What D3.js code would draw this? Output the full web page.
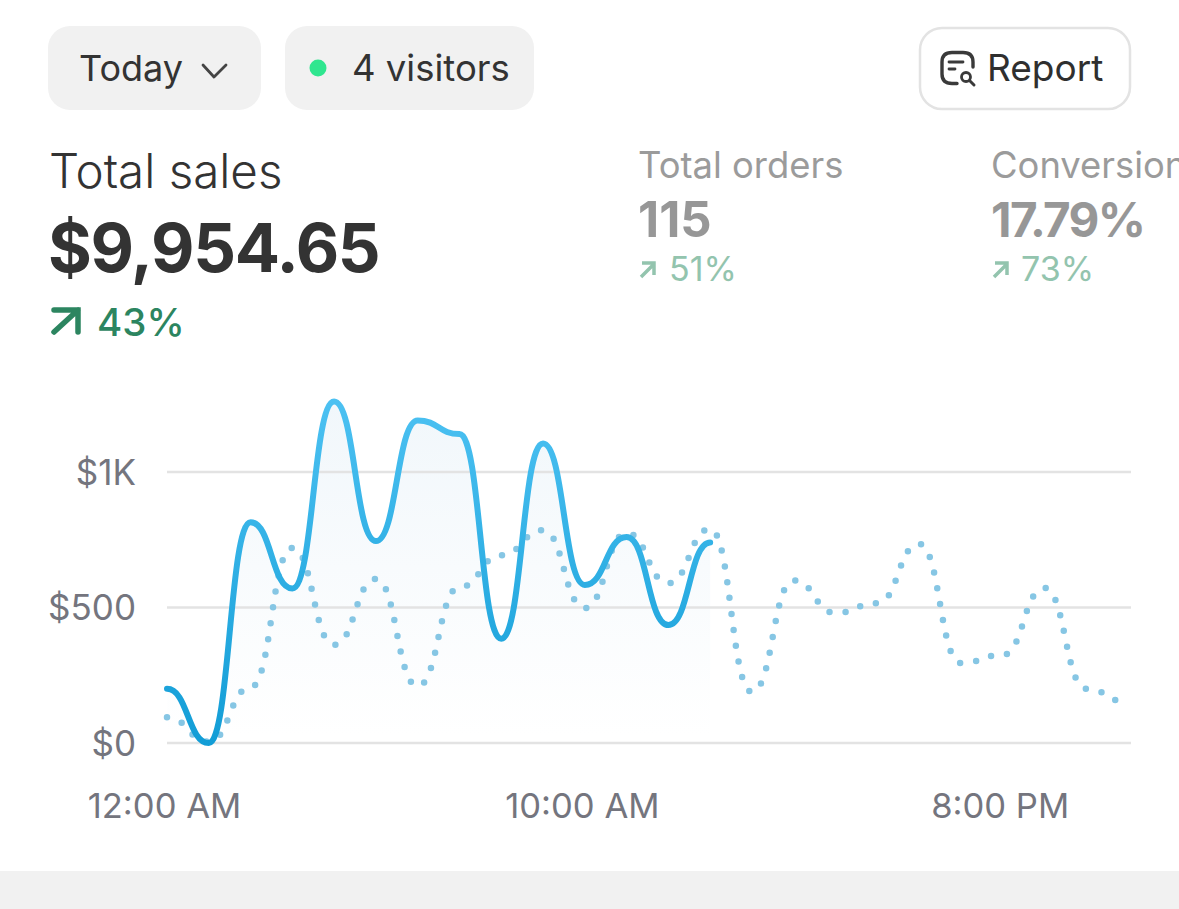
<!DOCTYPE html>
<html>
<head>
<meta charset="utf-8">
<script src="https://cdn.jsdelivr.net/npm/d3@7"></script>
<style>
html, body { margin: 0; padding: 0; background: #fff; overflow: hidden; }
svg { display: block; }
text { font-family: Inter, "Noto Sans", sans-serif; }
</style>
</head>
<body>
<div id="graph"></div>
<script>
// sales per hour
var hours = [0,1,2,3,4,5,6,7,8,9,10,11,12,13,14,15,16,17,18,19,20,21,22,23];
var today_sales = [200,0,815,570,1260,745,1190,1140,385,1105,583,760,435,740];
var last_sales = [95,5,205,720,362,605,210,575,693,785,498,775,590,790,188,600,480,516,735,295,325,572,200,150];
var y_ticks = [0,500,1000];
var y_labels = ["$0","$500","$1K"];
var x_ticks = [0,10,20];
var x_labels = ["12:00 AM","10:00 AM","8:00 PM"];

var width = 1179, height = 909;
var graph = d3.select('#graph').append('svg')
	.attr('width', width)
	.attr('height', height);

var defs = graph.append('defs');
var lineGrad = defs.append('linearGradient').attr('id','lineGrad')
	.attr('gradientUnits','userSpaceOnUse')
	.attr('x1',0).attr('y1',400).attr('x2',0).attr('y2',745);
lineGrad.append('stop').attr('offset','0%').attr('stop-color','#4cc1f2');
lineGrad.append('stop').attr('offset','100%').attr('stop-color','#129dd6');
var areaGrad = defs.append('linearGradient').attr('id','areaGrad')
	.attr('gradientUnits','userSpaceOnUse')
	.attr('x1',0).attr('y1',400).attr('x2',0).attr('y2',735);
areaGrad.append('stop').attr('offset','0%').attr('stop-color','#f1f7fb');
areaGrad.append('stop').attr('offset','100%').attr('stop-color','#ffffff');

function label(x, y, str, size, color, weight)
{
	return graph.append('text')
		.attr('x', x).attr('y', y)
		.attr('font-size', size)
		.attr('font-weight', weight || 400)
		.attr('fill', color)
		.text(str);
}

// top buttons
graph.append('rect').attr('x',48).attr('y',26).attr('width',213).attr('height',84).attr('rx',22).attr('fill','#f1f1f1');
graph.append('rect').attr('x',285).attr('y',26).attr('width',249).attr('height',84).attr('rx',22).attr('fill','#f1f1f1');
graph.append('rect').attr('x',920).attr('y',28).attr('width',210).attr('height',81).attr('rx',22)
	.attr('fill','#fff').attr('stroke','#e3e3e3').attr('stroke-width',2.5);
label(79, 81, "Today", 36, '#333');
graph.append('path').attr('d','M203 65 L214 77 L226 65').attr('fill','none')
	.attr('stroke','#444').attr('stroke-width',2.8).attr('stroke-linecap','round').attr('stroke-linejoin','round');
graph.append('circle').attr('cx',318).attr('cy',68).attr('r',8.5).attr('fill','#2fe68f');
label(352, 81, "4 visitors", 36.5, '#333');
label(987, 81, "Report", 37, '#2f2f2f');
graph.append('path')
	.attr('d','M973 67 V62 Q973 52.5 963 52.5 H952 Q942 52.5 942 62 V74 Q942 83.5 952 83.5 H957')
	.attr('fill','none').attr('stroke','#3a3a3a').attr('stroke-width',3.4).attr('stroke-linecap','round');
graph.append('path').attr('d','M949 62 H963 M949 69 H955').attr('fill','none')
	.attr('stroke','#3a3a3a').attr('stroke-width',2.8).attr('stroke-linecap','round');
graph.append('circle').attr('cx',966).attr('cy',77).attr('r',4.5).attr('fill','#fff')
	.attr('stroke','#3a3a3a').attr('stroke-width',2.8);
graph.append('path').attr('d','M970 81 L974 85').attr('stroke','#3a3a3a').attr('stroke-width',3).attr('stroke-linecap','round');

// headline figures
label(49, 188, "Total sales", 47.5, '#333', 300);
label(48, 272, "$9,954.65", 67, '#333', 700).attr('letter-spacing',-1.3);
graph.append('path').attr('d','M54 332 L78 310 M54 310 H78 V332').attr('fill','none')
	.attr('stroke','#2c8560').attr('stroke-width',5.5).attr('stroke-linecap','round').attr('stroke-linejoin','miter');
label(97, 336, "43%", 38.5, '#2c8560', 500);

label(638, 178, "Total orders", 36.4, '#9b9b9b');
label(638, 237, "115", 49, '#979797', 700);
graph.append('path').attr('d','M641 277 L653 265 M642 263 H654 V275').attr('fill','none')
	.attr('stroke','#93c4ae').attr('stroke-width',3.5);
label(669, 281, "51%", 34, '#93c4ae');

label(991, 178, "Conversion", 36.4, '#9b9b9b');
label(991, 237, "17.79%", 47.5, '#979797', 700).attr('letter-spacing',-1.6);
graph.append('path').attr('d','M994 277 L1006 265 M995 263 H1007 V275').attr('fill','none')
	.attr('stroke','#93c4ae').attr('stroke-width',3.5);
label(1021, 281, "73%", 34, '#93c4ae');

// chart
var x = d3.scaleLinear().domain([0,23]).range([167,1128]);
var y = d3.scaleLinear().domain([0,1000]).range([743,472]);

var yAxis = d3.axisLeft(y).tickValues(y_ticks).tickSize(0).tickPadding(0)
	.tickFormat(function(d, i) { return y_labels[i]; });
var yG = graph.append('g').attr('transform','translate(136,1)').call(yAxis);
yG.select('.domain').remove();
yG.selectAll('text').attr('font-size',35).attr('fill','#74757e').attr('font-family','Inter');

var xAxis = d3.axisBottom(x).tickValues(x_ticks).tickSize(0).tickPadding(0)
	.tickFormat(function(d, i) { return x_labels[i]; });
var xG = graph.append('g').attr('transform','translate(-3,793)').call(xAxis);
xG.select('.domain').remove();
xG.selectAll('text').attr('font-size',34.6).attr('fill','#74757e').attr('font-family','Inter');

var area = d3.area().curve(d3.curveBumpX)
	.x(function(d, i) { return x(hours[i]); })
	.y0(y(0))
	.y1(function(d) { return y(d); });
var line = d3.line().curve(d3.curveBumpX)
	.x(function(d, i) { return x(hours[i]); })
	.y(function(d) { return y(d); });

graph.append('path').datum(today_sales).attr('d',area).attr('fill','url(#areaGrad)');

graph.selectAll('line.grid').data(y_ticks).enter().append('line')
	.attr('class','grid')
	.attr('x1',167).attr('x2',1131)
	.attr('y1',function(d) { return y(d); })
	.attr('y2',function(d) { return y(d); })
	.attr('stroke','#e3e3e3').attr('stroke-width',2.5);

graph.append('path').datum(last_sales).attr('d',line).attr('fill','none')
	.attr('stroke','#86c6e4').attr('stroke-width',6.5)
	.attr('stroke-linecap','round').attr('stroke-dasharray','0 16');
graph.append('path').datum(today_sales).attr('d',line).attr('fill','none')
	.attr('stroke','url(#lineGrad)').attr('stroke-width',6)
	.attr('stroke-linecap','round');

// strip at the bottom
graph.append('rect').attr('x',0).attr('y',871).attr('width',width).attr('height',38).attr('fill','#f1f1f1');
</script>
</body>
</html>
